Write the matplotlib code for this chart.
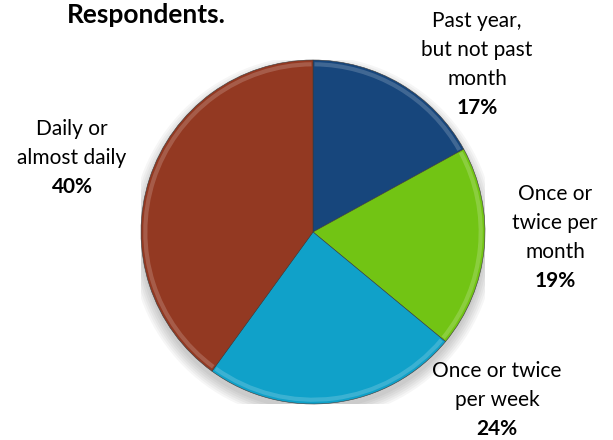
import numpy as np
import matplotlib.pyplot as plt
from matplotlib.patches import Arc, Circle

labels = ["Past year,\nbut not past\nmonth", "Once or\ntwice per\nmonth",
          "Once or twice\nper week", "Daily or\nalmost daily"]
shares = [17, 19, 24, 40]
colors = ["#17467c", "#72c414", "#10a1c9", "#933922"]

# label centre x and first baseline y (figure pixels from top-left)
label_xy = [(477, 27), (555, 200), (497, 377), (72, 135)]

W, H = 613, 440
plt.rcParams['font.family'] = ['Lato', 'DejaVu Sans']
fig = plt.figure(figsize=(W / 100, H / 100), dpi=100)

# pie axes: centre ~ (313, 232), radius ~ 172 px
cx, cy, r = 313, 232, 172
ax = fig.add_axes([(cx - r) / W, (H - cy - r) / H, 2 * r / W, 2 * r / H])
wedges, _ = ax.pie(shares, colors=colors, startangle=90, counterclock=False,
                   wedgeprops=dict(edgecolor="#3a3a3a", linewidth=0.4))

# soft shadow under the pie
for k in range(6):
    ax.add_patch(Circle((0.0, -0.035), 1.0 + 0.012 * k, color="black",
                        alpha=0.035, zorder=0, linewidth=0))

for w in wedges:
    w.set_zorder(2)
    # light bevel along the outer arc of each wedge
    d = 2 * w.r * 0.975
    ax.add_patch(Arc(w.center, d, d, theta1=w.theta1 + 0.5,
                     theta2=w.theta2 - 0.5, color="white", alpha=0.18,
                     linewidth=3, zorder=3))

ax.set_xlim(-1.0, 1.0)
ax.set_ylim(-1.0, 1.0)
ax.set_aspect("equal")
ax.axis("off")

fs = 15
line_h = 29
for lab, pct, (x, y) in zip(labels, shares, label_xy):
    lines = lab.split("\n")
    for i, ln in enumerate(lines):
        fig.text(x / W, 1 - (y + i * line_h) / H, ln, ha="center",
                 va="baseline", fontsize=fs, color="black")
    fig.text(x / W, 1 - (y + len(lines) * line_h) / H, f"{pct}%",
             ha="center", va="baseline", fontsize=fs, fontweight="bold")

fig.text(146 / W, 1 - 23 / H, "Respondents.", ha="center", va="baseline",
         fontsize=19, fontweight="bold")

fig.savefig("out.png", dpi=100)
